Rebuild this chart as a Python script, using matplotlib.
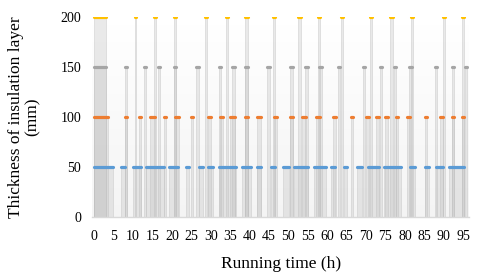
import matplotlib.pyplot as plt
import numpy as np

plt.rcParams['font.family'] = ['Liberation Serif', 'DejaVu Serif']

# runs of readings (start h, end h) at each insulation thickness
levels = [50, 100, 150, 200]
colors = ['#5b9bd5', '#ed7d31', '#a5a5a5', '#ffc000']

runs_50 = [(-0.4, 5.2), (6.5, 8.4), (9.6, 12.3), (13.0, 18.3), (18.8, 21.9),
           (23.1, 24.7), (26.5, 28.4), (29.0, 30.9), (31.6, 36.9), (37.6, 40.8),
           (41.6, 43.4), (45.2, 47.0), (48.2, 50.5), (51.1, 55.3), (56.2, 60.0),
           (60.7, 62.5), (63.8, 65.4), (67.2, 69.4), (70.2, 73.6), (74.2, 79.4),
           (80.8, 83.0), (84.7, 86.6), (87.7, 90.1), (90.9, 95.7)]
runs_100 = [(-0.4, 3.9), (7.4, 8.9), (11.0, 12.4), (13.9, 16.0), (17.5, 18.9),
            (20.3, 22.1), (24.4, 25.9), (29.0, 30.5), (32.0, 33.5), (34.5, 36.5),
            (38.5, 40.1), (41.4, 43.2), (45.9, 47.5), (50.0, 51.6), (53.1, 55.0),
            (56.6, 58.5), (61.0, 62.6), (65.6, 67.0), (69.6, 71.2), (72.2, 73.6),
            (74.5, 76.1), (77.2, 78.5), (80.1, 81.7), (84.7, 86.2), (88.6, 90.1),
            (91.7, 93.1), (94.2, 95.7)]
runs_150 = [(-0.4, 3.3), (7.6, 8.9), (12.5, 13.8), (16.0, 17.2), (20.1, 21.5),
            (25.9, 27.4), (31.6, 33.0), (35.1, 36.6), (38.5, 39.9), (44.0, 45.6),
            (50.1, 51.6), (54.0, 55.5), (57.6, 59.0), (62.3, 63.7), (68.7, 70.0),
            (73.3, 74.6), (76.7, 78.1), (80.7, 82.1), (87.3, 88.7), (91.7, 93.1),
            (95.2, 96.5)]
runs_200 = [(-0.4, 3.3), (10.0, 11.2), (14.9, 16.3), (20.1, 21.5), (28.1, 29.3),
            (33.6, 34.9), (38.5, 39.9), (45.6, 47.0), (52.0, 53.5), (57.1, 58.4),
            (63.2, 64.5), (70.7, 72.0), (75.7, 77.2), (81.1, 82.6), (89.3, 90.7),
            (94.2, 95.5)]
all_runs = [runs_50, runs_100, runs_150, runs_200]

xticks = list(range(0, 100, 5))
yticks = [0, 50, 100, 150, 200]

fig = plt.figure(figsize=(4.8, 2.79), dpi=100)
ax = fig.add_axes([0.1925, 0.222, 0.7845, 0.717])
ax.set_xlim(-0.5, 96.5)
ax.set_ylim(0, 200)

# soft background gradient of the plot area
grad = np.linspace(0, 1, 100).reshape(-1, 1)
ax.imshow(grad, extent=[-0.5, 96.5, 0, 200], aspect='auto', cmap='Greys',
          vmin=0, vmax=11, origin='upper', zorder=0)

cap = 0.39  # marker cap radius in hours
for lev, runs in zip(levels, all_runs):
    for a, b in runs:
        w = max(b - a - 2 * cap, 0.5)
        x0 = (a + b) / 2 - w / 2
        ax.add_patch(plt.Rectangle((x0, 0), w, lev, facecolor='#cccccc',
                                   alpha=0.42, edgecolor='#bbbbbb', lw=0.6, zorder=1))

for lev, runs, c in zip(levels, all_runs, colors):
    for a, b in runs:
        ax.plot([a + cap, b - cap], [lev, lev], color=c, lw=2.3,
                solid_capstyle='round', zorder=3)

for s in ['top', 'right', 'left']:
    ax.spines[s].set_visible(False)
ax.spines['bottom'].set_color('#d9d9d9')
ax.spines['bottom'].set_linewidth(1.0)

ax.set_xticks(xticks)
ax.set_yticks(yticks)
ax.tick_params(axis='both', length=0, labelsize=10, colors='#000000')
ax.tick_params(axis='x', pad=9)
ax.tick_params(axis='y', pad=8)
ax.set_xlabel('Running time (h)', fontsize=12.5, labelpad=10)
ax.set_ylabel('Thickness of insulation layer\n(mm)', fontsize=12.5, labelpad=14.5,
              linespacing=1.05)

fig.savefig('out.png', dpi=100)
